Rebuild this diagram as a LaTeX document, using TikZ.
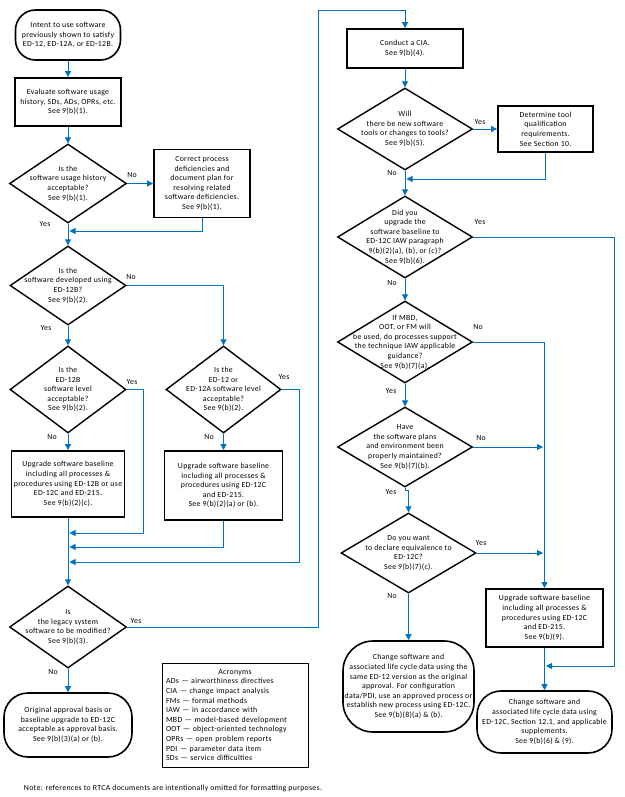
\documentclass[tikz,border=0pt]{standalone}
\usepackage{fontspec}
\setmainfont{Carlito}[LetterSpace=4]
\usetikzlibrary{shapes.geometric,arrows.meta}
\definecolor{flowblue}{RGB}{0,112,192}

\tikzset{every node/.style={font=\fontsize{7.8}{9.6}\selectfont}}
\tikzset{process/.style={draw, line width=1.8pt, align=center, inner sep=1pt}}
\tikzset{terminal/.style={draw, line width=1.6pt, rounded corners=#1, align=center, inner sep=1pt}, terminal/.default=22pt}
\tikzset{decision/.style={diamond, draw, line width=1.4pt, inner sep=0pt}}
\tikzset{dtext/.style={align=center, inner sep=0pt}}
\tikzset{lbl/.style={inner sep=0pt}}
\tikzset{flow/.style={draw=flowblue, line width=0.9pt, -{Triangle[length=6pt,width=6pt]}}}

\begin{document}
\begin{tikzpicture}[x=1pt, y=-1pt]
\useasboundingbox (0,0) rectangle (624,797);

% left column
\node[terminal=20pt, minimum width=105pt, minimum height=50pt] (start) at (68,35) {Intent to use software\\previously shown to satisfy\\ED-12, ED-12A, or ED-12B.};
\node[process, minimum width=106pt, minimum height=48pt] (eval) at (68,102) {Evaluate software usage\\history, SDs, ADs, OPRs, etc.\\See 9(b)(1).};
\node[decision, minimum width=117pt, minimum height=79pt, label={[dtext]center:{Is the\\software usage history\\acceptable?\\See 9(b)(1).}}] (d1) at (68,183.5) {};
\node[process, minimum width=96pt, minimum height=68pt] (corr) at (202,183.5) {Correct process\\deficiencies and\\document plan for\\resolving related\\software deficiencies.\\See 9(b)(1).};
\node[decision, minimum width=116pt, minimum height=79pt, label={[dtext]center:{Is the\\software developed using\\ED-12B?\\See 9(b)(2).}}] (d2) at (68,285.5) {};
\node[decision, minimum width=116pt, minimum height=87pt, label={[dtext]center:{Is the\\ED-12B\\software level\\acceptable?\\See 9(b)(2).}}] (d3a) at (68,389.5) {};
\node[decision, minimum width=115pt, minimum height=87pt, label={[dtext]center:{Is the\\ED-12 or\\ED-12A software level\\acceptable?\\See 9(b)(2).}}] (d3b) at (223.5,389.5) {};
\node[process, minimum width=113pt, minimum height=66pt] (up1) at (68,484) {Upgrade software baseline\\including all processes \&\\procedures using ED-12B or use\\ED-12C and ED-215.\\See 9(b)(2)(c).};
\node[process, minimum width=118pt, minimum height=69pt] (up2) at (223.5,485.5) {Upgrade software baseline\\including all processes \&\\procedures using ED-12C\\and ED-215.\\See 9(b)(2)(a) or (b).};
\node[decision, minimum width=117pt, minimum height=82pt, label={[dtext]center:{Is\\the legacy system\\software to be modified?\\See 9(b)(3).}}] (d4) at (68,627) {};
\node[terminal=24pt, minimum width=128pt, minimum height=64pt] (orig) at (68,725) {Original approval basis or\\baseline upgrade to ED-12C\\acceptable as approval basis.\\See 9(b)(3)(a) or (b).};

% acronyms and note
\node[draw, line width=0.8pt, text width=138pt, inner sep=4pt, align=left, minimum height=104pt] (acro) at (235,715) {\makebox[138pt]{Acronyms}\\ADs — airworthiness directives\\CIA — change impact analysis\\FMs — formal methods\\IAW — in accordance with\\MBD — model-based development\\OOT — object-oriented technology\\OPRs — open problem reports\\PDI — parameter data item\\SDs — service difficulties};
\node (note) at (173,788) {Note: references to RTCA documents are intentionally omitted for formatting purposes.};

% right column
\node[process, minimum width=116pt, minimum height=39pt] (cia) at (405,48.5) {Conduct a CIA.\\See 9(b)(4).};
\node[decision, minimum width=135pt, minimum height=82pt, label={[dtext]center:{Will\\there be new software\\tools or changes to tools?\\See 9(b)(5).}}] (d5) at (405,129) {};
\node[process, minimum width=95pt, minimum height=46pt] (tool) at (545.5,129) {Determine tool\\qualification\\requirements.\\See Section 10.};
\node[decision, minimum width=135pt, minimum height=82pt, label={[dtext]center:{Did you\\upgrade the\\software baseline to\\ED-12C IAW paragraph\\9(b)(2)(a), (b), or (c)?\\See 9(b)(6).}}] (d6) at (405,237) {};
\node[decision, minimum width=135pt, minimum height=82pt, label={[dtext]center:{If MBD,\\OOT, or FM will\\be used, do processes support\\the technique IAW applicable\\guidance?\\See 9(b)(7)(a).}}] (d7) at (405,342) {};
\node[decision, minimum width=135pt, minimum height=80pt, label={[dtext]center:{Have\\the software plans\\and environment been\\properly maintained?\\See 9(b)(7)(b).}}] (d8) at (405,447) {};
\node[decision, minimum width=135pt, minimum height=80pt, label={[dtext]center:{Do you want\\to declare equivalence to\\ED-12C?\\See 9(b)(7)(c).}}] (d9) at (408.5,553) {};
\node[process, minimum width=117pt, minimum height=58pt] (up3) at (544.5,618) {Upgrade software baseline\\including all processes \&\\procedures using ED-12C\\and ED-215.\\See 9(b)(9).};
\node[terminal=30pt, minimum width=131pt, minimum height=91pt] (chg1) at (408.5,686.5) {Change software and\\associated life cycle data using the\\same ED-12 version as the original\\approval. For configuration\\data/PDI, use an approved process or\\establish new process using ED-12C.\\See 9(b)(8)(a) \& (b).};
\node[terminal=24pt, minimum width=135pt, minimum height=62pt] (chg2) at (544.5,722) {Change software and\\associated life cycle data using\\ED-12C, Section 12.1, and applicable\\supplements.\\See 9(b)(6) \& (9).};

% junctions
\coordinate (j1) at (68,231);
\coordinate (j3) at (68,533);
\coordinate (j4) at (68,547);
\coordinate (j5) at (68,562);
\coordinate (top) at (318,10);
\coordinate (j6) at (405,179);
\coordinate (rt) at (614,666);
\coordinate (j7) at (544.5,666);
\coordinate (j8) at (544.5,447);
\coordinate (j9) at (544.5,553);

% connectors
\draw[flow] (start) -- (eval);
\draw[flow] (eval) -- (d1);
\draw[flow] (d1.east) -- (corr.west);
\draw[flow, shorten >=1.5pt] (corr.south) |- (j1);
\draw[flow] (d1.south) -- (d2.north);
\draw[flow] (d2.east) -| (d3b.north);
\draw[flow] (d2.south) -- (d3a.north);
\draw[flow] (d3a.south) -- (up1.north);
\draw[flow] (d3b.south) -- (up2.north);
\draw[flow, shorten >=1.5pt] (d3a.east) -- ++(17,0) |- (j3);
\draw[flow, shorten >=1.5pt] (up2.south) |- (j4);
\draw[flow, shorten >=1.5pt] (d3b.east) -- ++(18,0) |- (j5);
\draw[flow] (up1.south) -- (d4.north);
\draw[flow] (d4.south) -- (orig.north);
\draw[flow] (d4.east) -| (top) -| (cia.north);
\draw[flow] (cia) -- (d5);
\draw[flow] (d5.east) -- (tool.west);
\draw[flow, shorten >=1.5pt] (tool.south) |- (j6);
\draw[flow] (d5.south) -- (d6.north);
\draw[flow] (d6.south) -- (d7.north);
\draw[flow, shorten >=1.5pt] (d6.east) -| (rt) -- (j7);
\draw[flow] (d7.east) -| (up3.north);
\draw[flow] (d7.south) -- (d8.north);
\draw[flow, shorten >=1.5pt] (d8.east) -- (j8);
\draw[flow] (d8.south) -- ++(0,3) -| (d9.north);
\draw[flow, shorten >=1.5pt] (d9.east) -- (j9);
\draw[flow] (d9.south) -- (chg1.north);
\draw[flow] (up3.south) -- (chg2.north);

% yes/no labels
\node[lbl] (l1) at (132,175) {No};
\node[lbl] (l2) at (45,224) {Yes};
\node[lbl] (l3) at (131,277) {No};
\node[lbl] (l4) at (46,328) {Yes};
\node[lbl] (l5) at (132,382) {Yes};
\node[lbl] (l6) at (52,437) {No};
\node[lbl] (l7) at (284,377) {Yes};
\node[lbl] (l8) at (209,437) {No};
\node[lbl] (l9) at (136,621) {Yes};
\node[lbl] (l10) at (53,672) {No};
\node[lbl] (l11) at (480,122) {Yes};
\node[lbl] (l12) at (392,173) {No};
\node[lbl] (l13) at (480,222) {Yes};
\node[lbl] (l14) at (392,283) {No};
\node[lbl] (l15) at (478,327) {No};
\node[lbl] (l16) at (391,391) {Yes};
\node[lbl] (l17) at (481,438) {No};
\node[lbl] (l18) at (391,492) {Yes};
\node[lbl] (l19) at (481,543) {Yes};
\node[lbl] (l20) at (392,596) {No};
\end{tikzpicture}
\end{document}
